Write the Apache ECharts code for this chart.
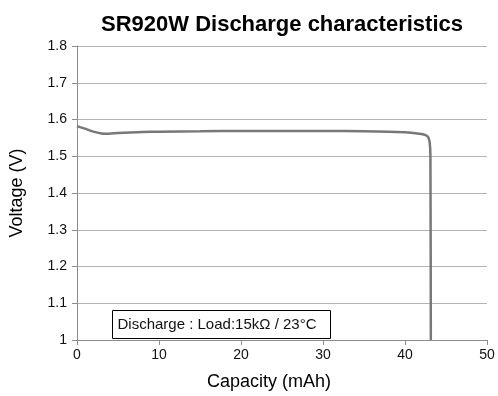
<!DOCTYPE html>
<html>
<head>
<meta charset="utf-8">
<script src="https://cdn.jsdelivr.net/npm/echarts@6/dist/echarts.min.js"></script>
<style>
  html, body { margin: 0; padding: 0; background: #fff; }
  #main { width: 498px; height: 396px; }
</style>
</head>
<body>
<div id="main"></div>
<script>
// SR920W discharge curve
var capacity = [0, 1, 2, 3, 3.6, 5, 8, 10, 15, 20, 25, 30, 35, 38, 40, 41.5, 42.3, 42.8, 43.0, 43.1, 43.15]
var voltage = [1.582, 1.575, 1.567, 1.562, 1.561, 1.563, 1.566, 1.567, 1.568, 1.569, 1.569, 1.569, 1.568, 1.567, 1.565, 1.562, 1.559, 1.553, 1.54, 1.5, 1.0]
var xTicks = [0, 10, 20, 30, 40, 50]
var yTicks = [1, 1.1, 1.2, 1.3, 1.4, 1.5, 1.6, 1.7, 1.8]
var noteText = 'Discharge : Load:15kΩ / 23°C'

var font = '"Liberation Sans", Arial, Helvetica, sans-serif'
var points = capacity.map(function (c, i) { return [c, voltage[i]] })

var myChart = echarts.init(document.getElementById('main'))
var option = {
    animation: false,
    title: {
        text: 'SR920W Discharge characteristics',
        left: 96,
        top: 9,
        textStyle: {
            fontFamily: font,
            fontSize: 22,
            fontWeight: 'bold',
            color: '#000'
        }
    },
    grid: {
        left: 76,
        right: 11,
        top: 46,
        bottom: 53
    },
    xAxis: {
        type: 'value',
        min: xTicks[0],
        max: xTicks[xTicks.length - 1],
        interval: 10,
        name: 'Capacity (mAh)',
        nameLocation: 'middle',
        nameGap: 33,
        nameTextStyle: { fontFamily: font, fontSize: 18, color: '#000', padding: [0, 26, 0, 0] },
        axisLine: { lineStyle: { color: '#8c8c8c', width: 1 } },
        axisTick: { show: true, length: 5, lineStyle: { color: '#8c8c8c' } },
        axisLabel: { fontFamily: font, fontSize: 14, color: '#111', margin: 8 },
        splitLine: { show: false }
    },
    yAxis: {
        type: 'value',
        min: yTicks[0],
        max: yTicks[yTicks.length - 1],
        interval: 0.1,
        name: 'Voltage (V)',
        nameLocation: 'middle',
        nameRotate: 90,
        nameGap: 51,
        nameTextStyle: { fontFamily: font, fontSize: 18, color: '#000' },
        axisLine: { show: true, lineStyle: { color: '#8c8c8c', width: 1 } },
        axisTick: { show: true, length: 5, lineStyle: { color: '#8c8c8c' } },
        axisLabel: {
            fontFamily: font, fontSize: 14, color: '#111', margin: 10,
            formatter: function (v) { return String(Math.round(v * 10) / 10) }
        },
        splitLine: { show: true, lineStyle: { color: '#b4b4b4', width: 1 } }
    },
    graphic: [
        {
            type: 'group',
            left: 112,
            top: 310,
            children: [
                {
                    type: 'rect',
                    shape: { x: 0, y: 0, width: 218, height: 28 },
                    style: { fill: '#fff', stroke: '#000', lineWidth: 1 }
                },
                {
                    type: 'text',
                    x: 5,
                    y: 14,
                    style: {
                        text: noteText,
                        fontFamily: font,
                        fontSize: 15,
                        fill: '#111',
                        align: 'left',
                        verticalAlign: 'middle'
                    }
                }
            ]
        }
    ],
    series: [
        {
            type: 'line',
            data: points,
            showSymbol: false,
            smooth: 0.2,
            clip: true,
            lineStyle: { color: '#787878', width: 2.5 }
        }
    ]
}
myChart.setOption(option)
</script>
</body>
</html>
